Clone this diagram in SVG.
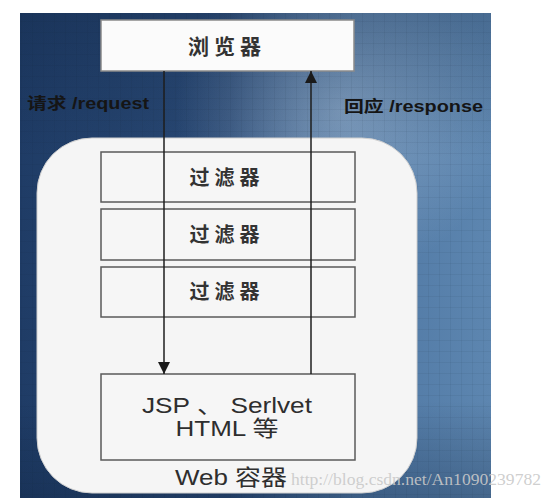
<svg xmlns="http://www.w3.org/2000/svg" width="549" height="501" viewBox="0 0 549 501">
<defs>
<linearGradient id="bg" x1="0" y1="0" x2="1" y2="0">
<stop offset="0" stop-color="#1f3c66"/>
<stop offset="0.45" stop-color="#2a4a76"/>
<stop offset="0.7" stop-color="#4e76a2"/>
<stop offset="1" stop-color="#5d86b0"/>
</linearGradient>
<radialGradient id="hl" cx="0.68" cy="0.2" r="0.35">
<stop offset="0" stop-color="#a9c0d8" stop-opacity="0.55"/>
<stop offset="1" stop-color="#a9c0d8" stop-opacity="0"/>
</radialGradient>
<linearGradient id="shade" x1="0" y1="0" x2="0" y2="1">
<stop offset="0" stop-color="#0b1d38" stop-opacity="0.25"/>
<stop offset="0.3" stop-color="#0b1d38" stop-opacity="0"/>
<stop offset="0.8" stop-color="#0b1d38" stop-opacity="0"/>
<stop offset="1" stop-color="#0b1d38" stop-opacity="0.3"/>
</linearGradient>
<pattern id="grid" width="11" height="11" patternUnits="userSpaceOnUse">
<path d="M11 0V11M0 11H11" fill="none" stroke="#0a1a30" stroke-opacity="0.12" stroke-width="1"/>
</pattern>
<marker id="ah" viewBox="0 0 12 12" refX="12" refY="6" markerWidth="12" markerHeight="12" markerUnits="userSpaceOnUse" orient="auto">
<path d="M0,0 L12,6 L0,12 z" fill="#1a1a1a"/>
</marker>
<style>
.box{fill:#f6f6f6;stroke:#5a5a5a;stroke-width:1.5}
.cjk{font-family:"Noto Sans CJK SC","Liberation Sans",sans-serif;font-weight:bold;fill:#333;text-anchor:middle}
.lat{font-family:"Liberation Sans","Noto Sans CJK SC",sans-serif;fill:#2e2e2e;text-anchor:middle}
.lbl{font-family:"Liberation Sans","Noto Sans CJK SC",sans-serif;font-weight:bold;fill:#151515}
.conn{stroke:#1e1e1e;stroke-width:1.5;fill:none}
</style>
</defs>
<g id="background">
<rect x="20" y="13" width="471" height="485" fill="url(#bg)"/>
<rect x="20" y="13" width="471" height="485" fill="url(#hl)"/>
<rect x="20" y="13" width="471" height="485" fill="url(#shade)"/>
<rect x="20" y="13" width="471" height="485" fill="url(#grid)"/>
</g>
<g id="web-container">
<rect x="37" y="138" width="380" height="355" rx="55" ry="55" fill="#f5f5f5" stroke="#d0d0d0" stroke-width="1"/>
<text class="lat" x="231" y="485" font-size="22" textLength="112" lengthAdjust="spacingAndGlyphs">Web 容器</text>
</g>
<g id="browser">
<rect x="101" y="20" width="253" height="51" fill="#fbfbfb" stroke="#8a8a8a" stroke-width="1.5"/>
<text class="cjk" x="227" y="54" font-size="21" letter-spacing="5">浏览器</text>
</g>
<g id="filter1">
<rect class="box" x="101" y="152" width="254" height="50"/>
<text class="cjk" x="227" y="185" font-size="20" letter-spacing="5">过滤器</text>
</g>
<g id="filter2">
<rect class="box" x="101" y="209" width="254" height="51"/>
<text class="cjk" x="227" y="242" font-size="20" letter-spacing="5">过滤器</text>
</g>
<g id="filter3">
<rect class="box" x="101" y="267" width="254" height="50"/>
<text class="cjk" x="227" y="299" font-size="20" letter-spacing="5">过滤器</text>
</g>
<g id="servlet">
<rect class="box" x="101" y="374" width="254" height="86"/>
<text class="lat" x="227" y="413" font-size="22" textLength="170" lengthAdjust="spacingAndGlyphs">JSP 、 Serlvet</text>
<text class="lat" x="227" y="436" font-size="22" textLength="103" lengthAdjust="spacingAndGlyphs">HTML 等</text>
</g>
<g id="connectors">
<line class="conn" x1="164" y1="71" x2="164" y2="374" marker-end="url(#ah)"/>
<line class="conn" x1="311" y1="374" x2="311" y2="71" marker-end="url(#ah)"/>
</g>
<g id="labels">
<text class="lbl" x="27" y="109" font-size="16" textLength="122" lengthAdjust="spacingAndGlyphs">请求 /request</text>
<text class="lbl" x="344" y="112" font-size="16" textLength="139" lengthAdjust="spacingAndGlyphs">回应 /response</text>
</g>
<g id="watermark">
<text x="291" y="485" font-family="Liberation Serif, serif" font-size="16" fill="#c9c9c9" fill-opacity="0.9" textLength="250" lengthAdjust="spacingAndGlyphs">http://blog.csdn.net/An1090239782</text>
</g>
</svg>
